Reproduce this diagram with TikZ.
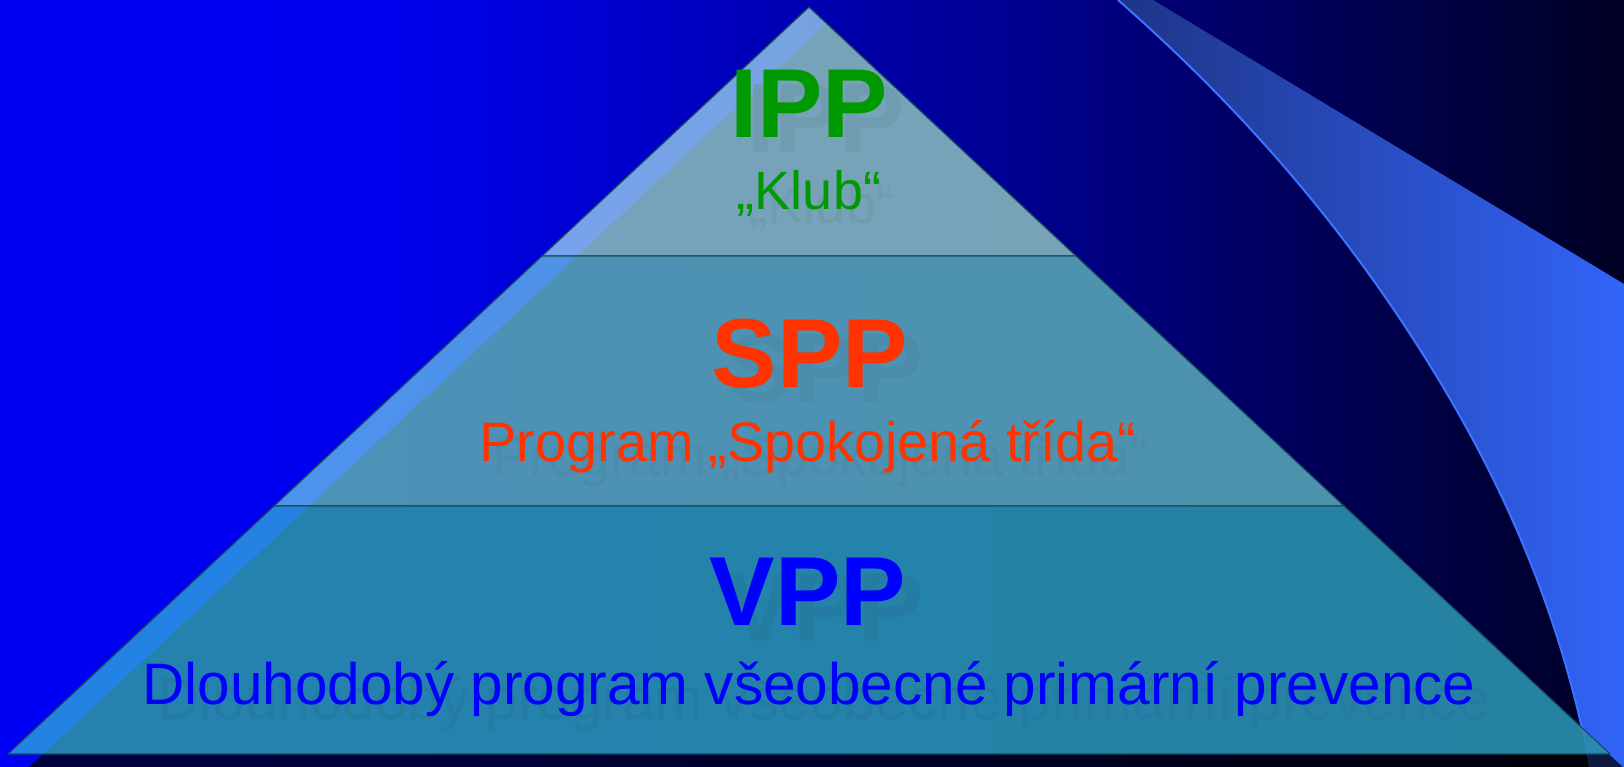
\documentclass[tikz,border=0pt]{standalone}
\usepackage{fontspec}
\setmainfont{Liberation Sans}
\pgfdeclarehorizontalshading{bgshade}{100bp}{rgb(0bp)=(0,0,0.96); rgb(25bp)=(0,0,0.96); rgb(37bp)=(0,0,0.93); rgb(46.5bp)=(0,0,0.76); rgb(56bp)=(0,0,0.57); rgb(66.6bp)=(0,0,0.32); rgb(75bp)=(0,0,0.14); rgb(100bp)=(0,0,0.14)}
\definecolor{rightL}{RGB}{30,52,135}
\definecolor{rightR}{RGB}{50,100,248}
\definecolor{curveln}{RGB}{60,115,255}
\definecolor{lvltop}{RGB}{169,233,245}
\definecolor{lvlmid}{RGB}{111,209,236}
\definecolor{lvlbot}{RGB}{54,186,224}
\definecolor{edgecol}{RGB}{25,72,92}
\definecolor{shdtop}{RGB}{112,156,176}
\definecolor{shdmid}{RGB}{74,140,170}
\definecolor{shdbot}{RGB}{36,124,162}
\definecolor{ippgreen}{RGB}{0,153,0}
\definecolor{sppred}{RGB}{255,51,0}
\definecolor{vppblue}{RGB}{0,0,255}
\tikzset{
  level/.style={fill=#1, fill opacity=0.7, draw=edgecol, line width=1.2pt, line join=round},
  ttl/.style={font=\fontsize{98}{98}\selectfont\bfseries, anchor=base, inner sep=0pt},
  subt/.style={font=\fontsize{#1}{#1}\selectfont, anchor=base, inner sep=0pt},
}
\begin{document}
\begin{tikzpicture}[x=1pt,y=-1pt]
\useasboundingbox (0,0) rectangle (1624,767);
\shade[shading=bgshade] (0,0) rectangle (1624,767);
% right light shape
\coordinate (c0) at (1118,0);
\coordinate (c1) at (1443,387);
\coordinate (c2) at (1590,767);
\shade[left color=rightL, right color=rightR]
  (c0) -- (1153,0) -- (1624,284) -- (1624,767) -- (c2)
  .. controls (1566,640) and (1519,514) .. (c1)
  .. controls (1366,258) and (1265,129) .. (c0) -- cycle;
\draw[curveln, line width=2pt]
  (c0) .. controls (1265,129) and (1366,258) .. (c1)
  .. controls (1519,514) and (1566,640) .. (c2);
% shadow of pyramid
\fill[black, opacity=0.75] (826,24) -- (25,771) -- (1627,771) -- cycle;
% pyramid levels
\path[level=lvltop] (809,7) -- (542,256) -- (1076,256) -- cycle;
\path[level=lvlmid] (542,256) -- (274,506) -- (1344,506) -- (1076,256) -- cycle;
\path[level=lvlbot] (274,506) -- (8,754) -- (1610,754) -- (1344,506) -- cycle;
% text shadows
\node[ttl, text=shdtop] (ippS) at (826,153) {IPP};
\node[subt=54, text=shdtop] (klubS) at (822,224) {„Klub“};
\node[ttl, text=shdmid] (sppS) at (826,402) {SPP};
\node[subt=55.7, text=shdmid] (progS) at (821,475) {Program „Spokojená třída“};
\node[ttl, text=shdbot] (vppS) at (826,641) {VPP};
\node[subt=58.5, text=shdbot] (dlouS) at (824,719) {Dlouhodobý program všeobecné primární prevence};
% texts
\node[ttl, text=ippgreen] (ipp) at (809,138) {IPP};
\node[subt=54, text=ippgreen] (klub) at (809,210) {„Klub“};
\node[ttl, text=sppred] (spp) at (810,387) {SPP};
\node[subt=55.7, text=sppred] (prog) at (808,461) {Program „Spokojená třída“};
\node[ttl, text=vppblue] (vpp) at (808,625) {VPP};
\node[subt=58.5, text=vppblue] (dlou) at (809,704) {Dlouhodobý program všeobecné primární prevence};
\end{tikzpicture}
\end{document}
